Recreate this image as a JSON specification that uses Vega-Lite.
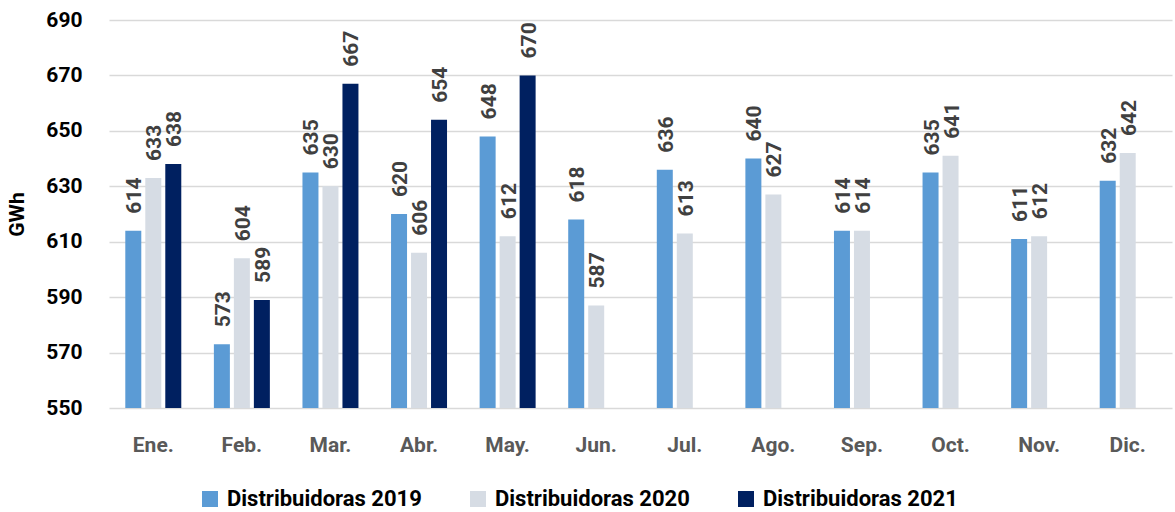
{
  "$schema": "https://vega.github.io/schema/vega-lite/v6.json",
  "width": 1063,
  "height": 388,
  "autosize": {"type": "none"},
  "padding": {"left": 109, "top": 20, "right": 3, "bottom": 104},
  "background": "white",
  "config": {
    "view": {"stroke": null},
    "font": "Roboto"
  },
  "data": {
    "values": [
      {"mes": "Ene.", "serie": "Distribuidoras 2019", "valor": 614},
      {"mes": "Ene.", "serie": "Distribuidoras 2020", "valor": 633},
      {"mes": "Ene.", "serie": "Distribuidoras 2021", "valor": 638},
      {"mes": "Feb.", "serie": "Distribuidoras 2019", "valor": 573},
      {"mes": "Feb.", "serie": "Distribuidoras 2020", "valor": 604},
      {"mes": "Feb.", "serie": "Distribuidoras 2021", "valor": 589},
      {"mes": "Mar.", "serie": "Distribuidoras 2019", "valor": 635},
      {"mes": "Mar.", "serie": "Distribuidoras 2020", "valor": 630},
      {"mes": "Mar.", "serie": "Distribuidoras 2021", "valor": 667},
      {"mes": "Abr.", "serie": "Distribuidoras 2019", "valor": 620},
      {"mes": "Abr.", "serie": "Distribuidoras 2020", "valor": 606},
      {"mes": "Abr.", "serie": "Distribuidoras 2021", "valor": 654},
      {"mes": "May.", "serie": "Distribuidoras 2019", "valor": 648},
      {"mes": "May.", "serie": "Distribuidoras 2020", "valor": 612},
      {"mes": "May.", "serie": "Distribuidoras 2021", "valor": 670},
      {"mes": "Jun.", "serie": "Distribuidoras 2019", "valor": 618},
      {"mes": "Jun.", "serie": "Distribuidoras 2020", "valor": 587},
      {"mes": "Jul.", "serie": "Distribuidoras 2019", "valor": 636},
      {"mes": "Jul.", "serie": "Distribuidoras 2020", "valor": 613},
      {"mes": "Ago.", "serie": "Distribuidoras 2019", "valor": 640},
      {"mes": "Ago.", "serie": "Distribuidoras 2020", "valor": 627},
      {"mes": "Sep.", "serie": "Distribuidoras 2019", "valor": 614},
      {"mes": "Sep.", "serie": "Distribuidoras 2020", "valor": 614},
      {"mes": "Oct.", "serie": "Distribuidoras 2019", "valor": 635},
      {"mes": "Oct.", "serie": "Distribuidoras 2020", "valor": 641},
      {"mes": "Nov.", "serie": "Distribuidoras 2019", "valor": 611},
      {"mes": "Nov.", "serie": "Distribuidoras 2020", "valor": 612},
      {"mes": "Dic.", "serie": "Distribuidoras 2019", "valor": 632},
      {"mes": "Dic.", "serie": "Distribuidoras 2020", "valor": 642}
    ]
  },
  "encoding": {
    "x": {
      "field": "mes",
      "type": "nominal",
      "sort": ["Ene.", "Feb.", "Mar.", "Abr.", "May.", "Jun.", "Jul.", "Ago.", "Sep.", "Oct.", "Nov.", "Dic."],
      "scale": {"paddingInner": 0.368, "paddingOuter": 0.184},
      "axis": {
        "title": null,
        "labelAngle": 0,
        "labelFontSize": 21,
        "labelFontWeight": "bold",
        "labelColor": "#595959",
        "labelPadding": 26,
        "ticks": false,
        "domain": false,
        "grid": false
      }
    },
    "xOffset": {
      "field": "serie",
      "type": "nominal",
      "scale": {"domain": ["Distribuidoras 2019", "Distribuidoras 2020", "Distribuidoras 2021"], "paddingInner": 0.2, "paddingOuter": 0}
    },
    "y": {
      "field": "valor",
      "type": "quantitative",
      "scale": {"domain": [550, 690], "nice": false, "zero": false},
      "axis": {
        "title": "GWh",
        "titleFontSize": 21,
        "titleFontWeight": "bold",
        "titleColor": "black",
        "titlePadding": 18,
        "values": [550, 570, 590, 610, 630, 650, 670, 690],
        "labelFontSize": 21,
        "labelFontWeight": "bold",
        "labelColor": "black",
        "labelPadding": 27,
        "ticks": false,
        "domain": false,
        "grid": true,
        "gridColor": "#d9d9d9",
        "gridWidth": 1.5
      }
    }
  },
  "layer": [
    {
      "mark": {"type": "bar", "clip": true},
      "encoding": {
        "color": {
          "field": "serie",
          "type": "nominal",
          "scale": {
            "domain": ["Distribuidoras 2019", "Distribuidoras 2020", "Distribuidoras 2021"],
            "range": ["#5B9BD5", "#D6DCE4", "#002060"]
          },
          "legend": {
            "title": null,
            "orient": "none",
            "direction": "horizontal",
            "legendX": 90,
            "legendY": 468,
            "symbolType": "square",
            "symbolSize": 256,
            "symbolStrokeWidth": 0,
            "labelFontSize": 22,
            "labelFontWeight": "bold",
            "labelColor": "black",
            "labelOffset": 6,
            "labelLimit": 400,
            "columnPadding": 45
          }
        }
      }
    },
    {
      "mark": {
        "type": "text",
        "angle": 270,
        "align": "left",
        "baseline": "middle",
        "dx": 17,
        "dy": 2,
        "fontSize": 21,
        "fontWeight": "bold",
        "color": "#404040"
      },
      "encoding": {
        "text": {"field": "valor", "type": "quantitative"}
      }
    }
  ]
}
